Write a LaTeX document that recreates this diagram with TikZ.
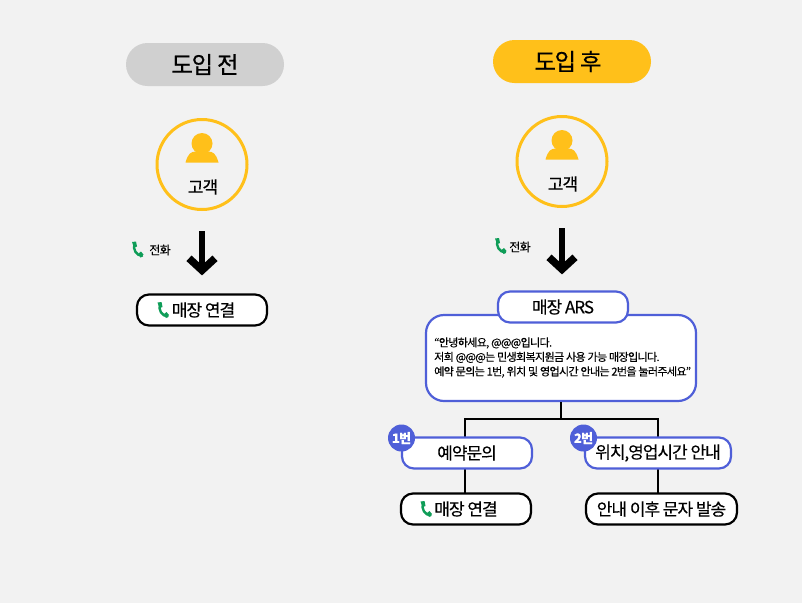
\documentclass[tikz,border=0pt]{standalone}
\usepackage{fontspec}
\setmainfont[LetterSpace=-6,FakeBold=0.25]{Noto Sans CJK KR}
\usetikzlibrary{arrows.meta}
\definecolor{pagegray}{HTML}{F2F2F2}
\definecolor{pillgray}{HTML}{D0D0D0}
\definecolor{amber}{HTML}{FFC01A}
\definecolor{arsblue}{HTML}{4F5FD8}
\definecolor{callgreen}{HTML}{0F9D58}
\tikzset{
  pill/.style={rounded corners=21.5pt,minimum width=158pt,minimum height=43pt,font=\fontsize{23.5}{24}\selectfont,inner sep=0pt},
  client/.style={circle,draw=amber,line width=3pt,minimum size=90pt,inner sep=0pt},
  blackbox/.style={draw=black,fill=white,line width=2.2pt,rounded corners=12pt,minimum height=31pt,inner sep=0pt,font=\fontsize{17}{17}\selectfont},
  bluebox/.style={draw=arsblue,fill=white,line width=2.2pt,rounded corners=12pt,minimum height=31pt,inner sep=0pt,font=\fontsize{17}{17}\selectfont},
  badge/.style={circle,fill=arsblue,text=white,minimum size=27pt,inner sep=0pt,font=\fontsize{13}{13}\selectfont\bfseries},
  tiny/.style={inner sep=0pt,font=\fontsize{12}{12}\selectfont},
  bigarrow/.style={line width=6pt,-{Straight Barb[length=12pt,width=26pt,line width=7.5pt]}},
  wire/.style={line width=2.2pt},
  person/.pic={
    \fill[amber] (0,-21) circle (10.5);
    \fill[amber] (-16.5,-2) .. controls (-14,-11) and (-11,-13) .. (-6,-13) -- (6,-13) .. controls (11,-13) and (14,-11) .. (16.5,-2) -- cycle;
  },
  phone/.pic={
    \draw[callgreen,line width=2.4pt,line cap=round] (-3,-6) .. controls (-5,0) and (-1,6) .. (4.5,6.5);
    \fill[callgreen] (-5.5,-7.5) -- (-1.5,-8) -- (-0.5,-3) -- (-3.5,-2) -- cycle;
    \fill[callgreen] (1,4) -- (3.5,2) -- (6,5) -- (3,8) -- cycle;
  }
}
\begin{document}
\begin{tikzpicture}[x=1pt,y=-1pt]
\fill[pagegray] (0,0) rectangle (802,603);
\useasboundingbox (0,0) rectangle (802,603);

% before
\node[pill,fill=pillgray] (before) at (205,64.5) {도입 전};
\node[client] (client1) at (202,164.5) {};
\pic at (202,164.5) {person};
\node[inner sep=0pt,font=\fontsize{17}{17}\selectfont] (clientname1) at (203,187) {고객};
\pic at (137.5,249.5) {phone};
\node[tiny] (calllabel1) at (160,250) {전화};
\node[blackbox,minimum width=130pt] (shop1) at (202,310) {\hspace{3pt}매장 연결};
\pic at (163,310) {phone};
\draw[bigarrow,shorten <=20pt,shorten >=18pt] (client1) -- (shop1);

% after
\node[pill,fill=amber] (after) at (572,61.5) {\hspace{-8pt}도입 후};
\node[client] (client2) at (562,161.5) {};
\pic at (562,161.5) {person};
\node[inner sep=0pt,font=\fontsize{17}{17}\selectfont] (clientname2) at (563,184) {고객};
\pic at (500.5,246) {phone};
\node[tiny] (calllabel2) at (520,247) {전화};

% ARS
\node[draw=arsblue,fill=white,line width=2.2pt,rounded corners=18pt,minimum width=270pt,minimum height=86pt] (message) at (561,358) {};
\node[bluebox,minimum width=130pt] (ars) at (563,307) {매장 ARS};
\draw[bigarrow,shorten <=20pt,shorten >=16pt] (client2) -- (client2 |- ars.north);
\node[anchor=west,align=left,inner sep=0pt,font=\fontsize{11.05}{14.5}\selectfont] (script) at (434,357.5) {“안녕하세요, @@@입니다.\\저희 @@@는 민생회복지원금 사용 가능 매장입니다.\\예약 문의는 1번, 위치 및 영업시간 안내는 2번을 눌러주세요”};

% options
\coordinate (fork) at (561,419);
\coordinate (join1) at (465,493);
\coordinate (join2) at (658,493);
\draw[wire] (message.south) -- (fork);
\draw[wire] (join1) |- (fork) -| (join2);
\node[bluebox,minimum width=130pt] (option1) at (467,453) {예약문의};
\node[bluebox,minimum width=146pt] (option2) at (658,453) {위치,영업시간 안내};
\node[blackbox,minimum width=130pt] (shop2) at (466,509) {매장 연결};
\node[blackbox,minimum width=151pt] (notice) at (661.5,509) {안내 이후 문자 발송};
\pic at (426,509) {phone};
\node[badge] (badge1) at (401.5,438) {1번};
\node[badge] (badge2) at (583.5,438) {2번};
\end{tikzpicture}
\end{document}
